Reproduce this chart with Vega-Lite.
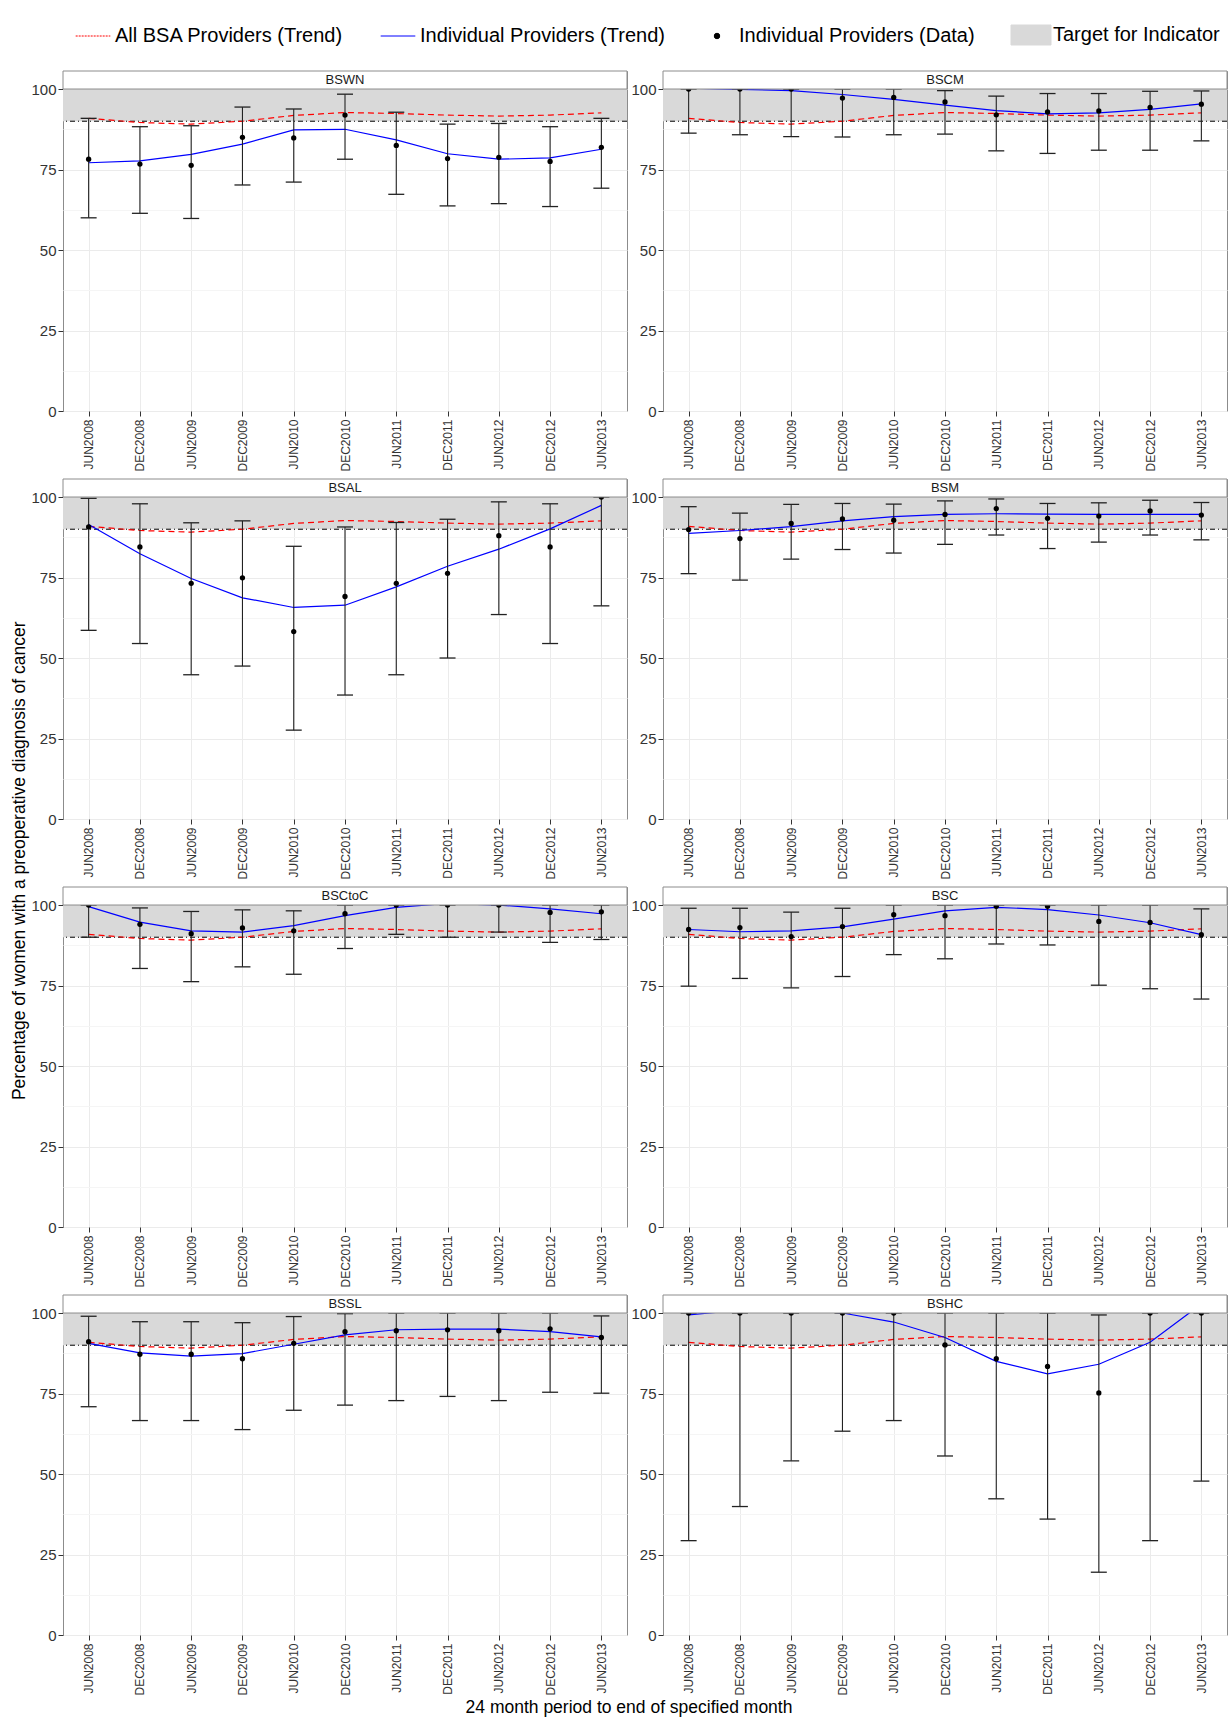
{
  "$schema": "https://vega.github.io/schema/vega-lite/v6.json",
  "background": "white",
  "padding": {"left": 10, "top": 5, "right": 5, "bottom": 5},
  "title": {"text": "Percentage of women with a preoperative diagnosis of cancer", "orient": "left", "anchor": "middle", "fontSize": 17.5, "fontWeight": "normal", "font": "Liberation Sans", "color": "#000000", "offset": 2},
  "data": {"values": [
    {"provider":"BSWN","period":"JUN2008","value":78.2,"lower":60.0,"upper":90.9,"trend":77.1,"all":90.9},
    {"provider":"BSWN","period":"DEC2008","value":76.7,"lower":61.4,"upper":88.3,"trend":77.7,"all":89.6},
    {"provider":"BSWN","period":"JUN2009","value":76.3,"lower":59.8,"upper":88.6,"trend":79.7,"all":89.1},
    {"provider":"BSWN","period":"DEC2009","value":85.0,"lower":70.2,"upper":94.4,"trend":82.9,"all":90.0},
    {"provider":"BSWN","period":"JUN2010","value":84.8,"lower":71.1,"upper":93.8,"trend":87.3,"all":91.8},
    {"provider":"BSWN","period":"DEC2010","value":91.9,"lower":78.2,"upper":98.4,"trend":87.5,"all":92.7},
    {"provider":"BSWN","period":"JUN2011","value":82.5,"lower":67.3,"upper":92.8,"trend":84.2,"all":92.4},
    {"provider":"BSWN","period":"DEC2011","value":78.4,"lower":63.7,"upper":89.1,"trend":79.9,"all":91.9},
    {"provider":"BSWN","period":"JUN2012","value":78.8,"lower":64.4,"upper":89.3,"trend":78.2,"all":91.6},
    {"provider":"BSWN","period":"DEC2012","value":77.5,"lower":63.5,"upper":88.3,"trend":78.6,"all":91.9},
    {"provider":"BSWN","period":"JUN2013","value":81.9,"lower":69.2,"upper":90.9,"trend":81.3,"all":92.6},
    {"provider":"BSCM","period":"JUN2008","value":100,"lower":86.3,"upper":100,"trend":100.3,"all":90.9},
    {"provider":"BSCM","period":"DEC2008","value":100,"lower":85.8,"upper":100,"trend":99.9,"all":89.6},
    {"provider":"BSCM","period":"JUN2009","value":100,"lower":85.2,"upper":100,"trend":99.5,"all":89.1},
    {"provider":"BSCM","period":"DEC2009","value":97.2,"lower":85.1,"upper":100,"trend":98.3,"all":90.0},
    {"provider":"BSCM","period":"JUN2010","value":97.4,"lower":85.8,"upper":100,"trend":96.8,"all":91.8},
    {"provider":"BSCM","period":"DEC2010","value":96.0,"lower":86.0,"upper":99.5,"trend":95.0,"all":92.7},
    {"provider":"BSCM","period":"JUN2011","value":92.0,"lower":80.8,"upper":97.8,"trend":93.3,"all":92.4},
    {"provider":"BSCM","period":"DEC2011","value":92.9,"lower":80.0,"upper":98.6,"trend":92.3,"all":91.9},
    {"provider":"BSCM","period":"JUN2012","value":93.2,"lower":81.0,"upper":98.6,"trend":92.6,"all":91.6},
    {"provider":"BSCM","period":"DEC2012","value":94.3,"lower":81.0,"upper":99.3,"trend":93.7,"all":91.9},
    {"provider":"BSCM","period":"JUN2013","value":95.3,"lower":83.9,"upper":99.4,"trend":95.4,"all":92.6},
    {"provider":"BSAL","period":"JUN2008","value":90.7,"lower":58.6,"upper":99.6,"trend":91.5,"all":90.9},
    {"provider":"BSAL","period":"DEC2008","value":84.5,"lower":54.5,"upper":97.9,"trend":82.4,"all":89.6},
    {"provider":"BSAL","period":"JUN2009","value":73.2,"lower":44.8,"upper":92.0,"trend":74.7,"all":89.1},
    {"provider":"BSAL","period":"DEC2009","value":74.9,"lower":47.5,"upper":92.6,"trend":68.7,"all":90.0},
    {"provider":"BSAL","period":"JUN2010","value":58.2,"lower":27.6,"upper":84.7,"trend":65.7,"all":91.8},
    {"provider":"BSAL","period":"DEC2010","value":69.1,"lower":38.5,"upper":90.7,"trend":66.4,"all":92.7},
    {"provider":"BSAL","period":"JUN2011","value":73.2,"lower":44.8,"upper":92.1,"trend":72.1,"all":92.4},
    {"provider":"BSAL","period":"DEC2011","value":76.3,"lower":50.0,"upper":93.1,"trend":78.5,"all":91.9},
    {"provider":"BSAL","period":"JUN2012","value":88.0,"lower":63.5,"upper":98.5,"trend":83.8,"all":91.6},
    {"provider":"BSAL","period":"DEC2012","value":84.5,"lower":54.5,"upper":97.9,"trend":90.1,"all":91.9},
    {"provider":"BSAL","period":"JUN2013","value":100,"lower":66.2,"upper":100,"trend":97.4,"all":92.6},
    {"provider":"BSM","period":"JUN2008","value":89.9,"lower":76.2,"upper":97.0,"trend":88.7,"all":90.9},
    {"provider":"BSM","period":"DEC2008","value":87.1,"lower":74.2,"upper":95.0,"trend":89.6,"all":89.6},
    {"provider":"BSM","period":"JUN2009","value":91.8,"lower":80.7,"upper":97.7,"trend":90.8,"all":89.1},
    {"provider":"BSM","period":"DEC2009","value":93.2,"lower":83.7,"upper":98.0,"trend":92.6,"all":90.0},
    {"provider":"BSM","period":"JUN2010","value":92.8,"lower":82.6,"upper":97.8,"trend":93.9,"all":91.8},
    {"provider":"BSM","period":"DEC2010","value":94.6,"lower":85.3,"upper":98.8,"trend":94.6,"all":92.7},
    {"provider":"BSM","period":"JUN2011","value":96.4,"lower":88.2,"upper":99.4,"trend":94.8,"all":92.4},
    {"provider":"BSM","period":"DEC2011","value":93.4,"lower":84.0,"upper":98.0,"trend":94.7,"all":91.9},
    {"provider":"BSM","period":"JUN2012","value":94.1,"lower":86.0,"upper":98.2,"trend":94.6,"all":91.6},
    {"provider":"BSM","period":"DEC2012","value":95.7,"lower":88.2,"upper":99.0,"trend":94.6,"all":91.9},
    {"provider":"BSM","period":"JUN2013","value":94.4,"lower":86.7,"upper":98.3,"trend":94.6,"all":92.6},
    {"provider":"BSCtoC","period":"JUN2008","value":100,"lower":90.0,"upper":100,"trend":99.5,"all":90.9},
    {"provider":"BSCtoC","period":"DEC2008","value":94.0,"lower":80.3,"upper":99.1,"trend":94.7,"all":89.6},
    {"provider":"BSCtoC","period":"JUN2009","value":91.1,"lower":76.2,"upper":98.0,"trend":92.0,"all":89.1},
    {"provider":"BSCtoC","period":"DEC2009","value":92.9,"lower":80.8,"upper":98.5,"trend":91.6,"all":90.0},
    {"provider":"BSCtoC","period":"JUN2010","value":92.0,"lower":78.5,"upper":98.2,"trend":93.6,"all":91.8},
    {"provider":"BSCtoC","period":"DEC2010","value":97.3,"lower":86.5,"upper":100,"trend":96.7,"all":92.7},
    {"provider":"BSCtoC","period":"JUN2011","value":100,"lower":90.9,"upper":100,"trend":99.3,"all":92.4},
    {"provider":"BSCtoC","period":"DEC2011","value":100,"lower":90.0,"upper":100,"trend":100.5,"all":91.9},
    {"provider":"BSCtoC","period":"JUN2012","value":100,"lower":91.6,"upper":100,"trend":100.0,"all":91.6},
    {"provider":"BSCtoC","period":"DEC2012","value":97.7,"lower":88.4,"upper":100,"trend":98.8,"all":91.9},
    {"provider":"BSCtoC","period":"JUN2013","value":97.9,"lower":89.3,"upper":100,"trend":97.3,"all":92.6},
    {"provider":"BSC","period":"JUN2008","value":92.4,"lower":74.8,"upper":99.0,"trend":92.4,"all":90.9},
    {"provider":"BSC","period":"DEC2008","value":93.0,"lower":77.2,"upper":99.0,"trend":91.7,"all":89.6},
    {"provider":"BSC","period":"JUN2009","value":90.2,"lower":74.3,"upper":97.8,"trend":92.0,"all":89.1},
    {"provider":"BSC","period":"DEC2009","value":93.3,"lower":77.8,"upper":99.0,"trend":93.2,"all":90.0},
    {"provider":"BSC","period":"JUN2010","value":97.0,"lower":84.6,"upper":100,"trend":95.6,"all":91.8},
    {"provider":"BSC","period":"DEC2010","value":96.7,"lower":83.3,"upper":100,"trend":98.2,"all":92.7},
    {"provider":"BSC","period":"JUN2011","value":99.6,"lower":87.9,"upper":100,"trend":99.3,"all":92.4},
    {"provider":"BSC","period":"DEC2011","value":99.6,"lower":87.6,"upper":100,"trend":98.6,"all":91.9},
    {"provider":"BSC","period":"JUN2012","value":94.9,"lower":75.1,"upper":100,"trend":96.9,"all":91.6},
    {"provider":"BSC","period":"DEC2012","value":94.6,"lower":74.0,"upper":100,"trend":94.5,"all":91.9},
    {"provider":"BSC","period":"JUN2013","value":90.8,"lower":70.8,"upper":98.8,"trend":90.8,"all":92.6},
    {"provider":"BSSL","period":"JUN2008","value":91.1,"lower":70.9,"upper":99.0,"trend":90.6,"all":90.9},
    {"provider":"BSSL","period":"DEC2008","value":87.2,"lower":66.6,"upper":97.3,"trend":87.6,"all":89.6},
    {"provider":"BSSL","period":"JUN2009","value":87.2,"lower":66.6,"upper":97.3,"trend":86.6,"all":89.1},
    {"provider":"BSSL","period":"DEC2009","value":85.8,"lower":63.8,"upper":97.0,"trend":87.4,"all":90.0},
    {"provider":"BSSL","period":"JUN2010","value":90.6,"lower":69.8,"upper":98.9,"trend":90.3,"all":91.8},
    {"provider":"BSSL","period":"DEC2010","value":94.2,"lower":71.4,"upper":99.8,"trend":93.2,"all":92.7},
    {"provider":"BSSL","period":"JUN2011","value":94.5,"lower":72.8,"upper":100,"trend":94.8,"all":92.4},
    {"provider":"BSSL","period":"DEC2011","value":94.8,"lower":74.1,"upper":100,"trend":95.0,"all":91.9},
    {"provider":"BSSL","period":"JUN2012","value":94.5,"lower":72.8,"upper":100,"trend":95.0,"all":91.6},
    {"provider":"BSSL","period":"DEC2012","value":95.1,"lower":75.4,"upper":100,"trend":94.2,"all":91.9},
    {"provider":"BSSL","period":"JUN2013","value":92.4,"lower":75.1,"upper":99.1,"trend":92.6,"all":92.6},
    {"provider":"BSHC","period":"JUN2008","value":100,"lower":29.3,"upper":100,"trend":99.4,"all":90.9},
    {"provider":"BSHC","period":"DEC2008","value":100,"lower":39.9,"upper":100,"trend":100.9,"all":89.6},
    {"provider":"BSHC","period":"JUN2009","value":100,"lower":54.1,"upper":100,"trend":101.5,"all":89.1},
    {"provider":"BSHC","period":"DEC2009","value":100,"lower":63.3,"upper":100,"trend":100.0,"all":90.0},
    {"provider":"BSHC","period":"JUN2010","value":100,"lower":66.6,"upper":100,"trend":97.2,"all":91.8},
    {"provider":"BSHC","period":"DEC2010","value":90.1,"lower":55.6,"upper":100,"trend":92.4,"all":92.7},
    {"provider":"BSHC","period":"JUN2011","value":85.8,"lower":42.3,"upper":100,"trend":85.0,"all":92.4},
    {"provider":"BSHC","period":"DEC2011","value":83.4,"lower":36.0,"upper":100,"trend":81.1,"all":91.9},
    {"provider":"BSHC","period":"JUN2012","value":75.2,"lower":19.5,"upper":99.4,"trend":84.1,"all":91.6},
    {"provider":"BSHC","period":"DEC2012","value":100,"lower":29.3,"upper":100,"trend":90.9,"all":91.9},
    {"provider":"BSHC","period":"JUN2013","value":100,"lower":47.8,"upper":100,"trend":102.8,"all":92.6}
  ]},
  "facet": {
    "field": "provider",
    "type": "nominal",
    "sort": ["BSWN","BSCM","BSAL","BSM","BSCtoC","BSC","BSSL","BSHC"],
    "header": {"labels": false, "labelExpr": "''", "labelFontSize": 1, "labelPadding": 0, "title": "24 month period to end of specified month", "titleOrient": "bottom", "titleFontSize": 17.5, "titleFontWeight": "normal", "titleFont": "Liberation Sans", "titleColor": "#000000", "titlePadding": 3}
  },
  "columns": 2,
  "spacing": {"row": 5, "column": 2},
  "resolve": {"axis": {"x": "independent", "y": "independent"}},
  "spec": {
    "width": 564,
    "height": 340,
    "layer": [
      {
        "transform": [{"filter": "datum.period == 'JUN2008'"}],
        "mark": {"type": "rect"},
        "encoding": {
          "y": {"datum": 90, "type": "quantitative", "scale": {"domain": [0, 105.6], "nice": false, "zero": true},
            "axis": {"title": null, "values": [0, 12.5, 25, 37.5, 50, 62.5, 75, 87.5, 100], "labelExpr": "datum.value % 25 === 0 ? datum.label : ''", "labelFontSize": 15, "labelColor": "#333333", "labelFont": "Liberation Sans", "tickSize": 5, "tickColor": "#333333", "tickOpacity": {"condition": {"test": "datum.value % 25 === 0", "value": 1}, "value": 0}, "domain": false, "grid": true, "gridColor": {"condition": {"test": "datum.value % 25 === 0", "value": "#ebebeb"}, "value": "#f5f5f5"}, "labelPadding": 2}},
          "y2": {"datum": 100},
          "color": {"datum": "Target for Indicator", "type": "nominal",
            "scale": {"domain": ["All BSA Providers (Trend)", "Individual Providers (Trend)", "Individual Providers (Data)", "Target for Indicator"], "range": ["#ff0000", "#0000ff", "#000000", "#d9d9d9"]},
            "legend": {"title": null, "orient": "top", "direction": "horizontal", "columns": 4, "columnPadding": 34, "labelFontSize": 20, "labelFont": "Liberation Sans", "labelColor": "#000000", "labelOffset": 4, "symbolSize": 1600, "labelLimit": 400, "offset": 10, "padding": 12,
              "encode": {"symbols": {"update": {
                "shape": {"signal": "datum.value === 'Individual Providers (Data)' ? 'circle' : (datum.value === 'Target for Indicator' ? 'M-1,-0.5H1V0.5H-1Z' : 'stroke')"},
                "size": {"signal": "datum.value === 'Individual Providers (Data)' ? 30 : (datum.value === 'Target for Indicator' ? 1600 : 1200)"},
                "fill": {"signal": "datum.value === 'Individual Providers (Data)' ? '#000000' : (datum.value === 'Target for Indicator' ? '#d9d9d9' : 'transparent')"},
                "stroke": {"signal": "datum.value === 'All BSA Providers (Trend)' ? '#ff7070' : (datum.value === 'Individual Providers (Trend)' ? '#8080ff' : (datum.value === 'Target for Indicator' ? '#c8c8c8' : 'transparent'))"},
                "strokeDash": {"signal": "datum.value === 'All BSA Providers (Trend)' ? [2, 1] : []"},
                "strokeWidth": {"value": 1},
                "opacity": {"value": 1}
              }}}}}
        }
      },
      {
        "transform": [{"filter": "datum.period == 'JUN2008'"}],
        "mark": {"type": "rule", "color": "#000000", "strokeWidth": 1, "strokeDash": [5, 3, 1, 3]},
        "encoding": {"y": {"datum": 90, "type": "quantitative"}}
      },
      {
        "mark": {"type": "line", "strokeDash": [6, 4], "strokeWidth": 1.2, "clip": true},
        "encoding": {
          "x": {"field": "period", "type": "ordinal", "sort": ["JUN2008","DEC2008","JUN2009","DEC2009","JUN2010","DEC2010","JUN2011","DEC2011","JUN2012","DEC2012","JUN2013"], "scale": {"type": "point", "padding": 0.5},
            "axis": {"title": null, "labelAngle": 270, "labelAlign": "right", "labelBaseline": "middle", "labelFontSize": 12, "labelColor": "#333333", "labelPadding": 3, "tickColor": "#333333", "tickSize": 5, "domain": false, "grid": true, "gridColor": "#ebebeb", "labelFont": "Liberation Sans"}},
          "y": {"field": "all", "type": "quantitative"},
          "color": {"datum": "All BSA Providers (Trend)", "type": "nominal"}}
      },
      {
        "mark": {"type": "line", "strokeWidth": 1.2, "clip": true},
        "encoding": {
          "x": {"field": "period", "type": "ordinal", "sort": ["JUN2008","DEC2008","JUN2009","DEC2009","JUN2010","DEC2010","JUN2011","DEC2011","JUN2012","DEC2012","JUN2013"], "axis": {"title": null}},
          "y": {"field": "trend", "type": "quantitative"},
          "color": {"datum": "Individual Providers (Trend)", "type": "nominal"}}
      },
      {
        "mark": {"type": "rule", "color": "#222222", "strokeWidth": 1.1},
        "encoding": {
          "x": {"field": "period", "type": "ordinal", "sort": ["JUN2008","DEC2008","JUN2009","DEC2009","JUN2010","DEC2010","JUN2011","DEC2011","JUN2012","DEC2012","JUN2013"], "axis": {"title": null}},
          "y": {"field": "lower", "type": "quantitative"}, "y2": {"field": "upper"}}
      },
      {
        "mark": {"type": "tick", "color": "#222222", "size": 16, "thickness": 1.3, "opacity": 1},
        "encoding": {
          "x": {"field": "period", "type": "ordinal", "sort": ["JUN2008","DEC2008","JUN2009","DEC2009","JUN2010","DEC2010","JUN2011","DEC2011","JUN2012","DEC2012","JUN2013"], "axis": {"title": null}},
          "y": {"field": "lower", "type": "quantitative"}}
      },
      {
        "mark": {"type": "tick", "color": "#222222", "size": 16, "thickness": 1.3, "opacity": 1},
        "encoding": {
          "x": {"field": "period", "type": "ordinal", "sort": ["JUN2008","DEC2008","JUN2009","DEC2009","JUN2010","DEC2010","JUN2011","DEC2011","JUN2012","DEC2012","JUN2013"], "axis": {"title": null}},
          "y": {"field": "upper", "type": "quantitative"}}
      },
      {
        "mark": {"type": "point", "filled": true, "size": 28, "opacity": 1},
        "encoding": {
          "x": {"field": "period", "type": "ordinal", "sort": ["JUN2008","DEC2008","JUN2009","DEC2009","JUN2010","DEC2010","JUN2011","DEC2011","JUN2012","DEC2012","JUN2013"], "axis": {"title": null}},
          "y": {"field": "value", "type": "quantitative"},
          "color": {"datum": "Individual Providers (Data)", "type": "nominal"}}
      },
      {
        "transform": [{"filter": "datum.period == 'JUN2008'"}],
        "mark": {"type": "rect", "fill": "#ffffff", "stroke": "#8c8c8c", "strokeWidth": 1},
        "encoding": {"y": {"datum": 100, "type": "quantitative"}, "y2": {"datum": 105.6}}
      },
      {
        "transform": [{"filter": "datum.period == 'JUN2008'"}],
        "mark": {"type": "text", "fontSize": 13, "font": "Liberation Sans", "color": "#1a1a1a", "baseline": "middle", "align": "center"},
        "encoding": {"x": {"datum": "DEC2010", "type": "ordinal", "axis": {"title": null}}, "y": {"datum": 102.8, "type": "quantitative"}, "text": {"field": "provider"}}
      }
    ]
  },
  "config": {
    "font": "Liberation Sans",
    "view": {"stroke": "#8c8c8c", "strokeWidth": 1}
  }
}
